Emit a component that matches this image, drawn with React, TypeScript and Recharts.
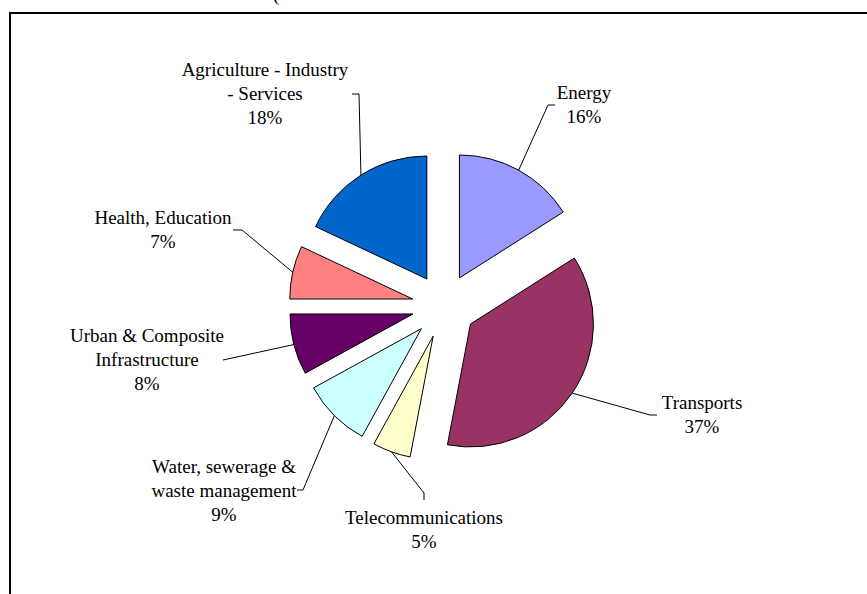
import React from "react";
import { PieChart, Pie, Cell, Sector, Tooltip } from "recharts";

// sector names, clockwise from 12 o'clock
const categories = [
  "Energy",
  "Transports",
  "Telecommunications",
  "Water, sewerage &\nwaste management",
  "Urban & Composite\nInfrastructure",
  "Health, Education",
  "Agriculture - Industry\n- Services",
];
const shares = [16, 37, 5, 9, 8, 7, 18];
const colors = ["#9999FF", "#993366", "#FFFFCC", "#CCFFFF", "#660066", "#FF8080", "#0066CC"];

// label placement relative to pie centre: text anchor (tx,ty), leader elbow (ex,ey), leader end (kx,ky)
const labelLayout = [
  { tx: 140, ty: -207, ex: 104, ey: -201, kx: 111, ky: -201 },
  { tx: 258, ty: 103, ex: 206, ey: 109, kx: 213, ky: 109 },
  { tx: -20, ty: 218, ex: -20, ey: 187, kx: -20, ky: 194 },
  { tx: -220, ty: 167, ex: -141, ey: 184, kx: -147, ky: 184 },
  { tx: -297, ty: 36, ex: -221, ey: 54, kx: -221, ky: 54 },
  { tx: -281, ty: -82, ex: -202, ey: -76, kx: -211, ky: -76 },
  { tx: -179, ty: -230, ex: -85, ey: -212, kx: -92, ky: -212 },
];

const data = categories.map((name, i) => ({ name, value: shares[i] }));

const RADIAN = Math.PI / 180;
const EXPLODE = 32;
const FONT = "'Liberation Serif', 'Times New Roman', serif";

const explodeOffset = (midAngle: number) => ({
  dx: EXPLODE * Math.cos(-midAngle * RADIAN),
  dy: EXPLODE * Math.sin(-midAngle * RADIAN),
});

function ExplodedSector(props: any) {
  const { cx, cy, midAngle } = props;
  const { dx, dy } = explodeOffset(midAngle);
  return <Sector {...props} cx={cx + dx} cy={cy + dy} />;
}

function renderLabel(props: any) {
  const { cx, cy, midAngle, outerRadius, index, name, percent } = props;
  const lay = labelLayout[index];
  if (!lay) return null;
  const { dx, dy } = explodeOffset(midAngle);
  const px = cx + dx + outerRadius * Math.cos(-midAngle * RADIAN);
  const py = cy + dy + outerRadius * Math.sin(-midAngle * RADIAN);
  const lines = [...String(name).split("\n"), `${Math.round(percent * 100)}%`];
  return (
    <g>
      <polyline
        points={`${px},${py} ${cx + lay.ex},${cy + lay.ey} ${cx + lay.kx},${cy + lay.ky}`}
        fill="none"
        stroke="#000"
        strokeWidth={1}
      />
      {lines.map((t, i) => (
        <text
          key={i}
          x={cx + lay.tx}
          y={cy + lay.ty + i * 24}
          textAnchor="middle"
          fontSize={19}
          fontFamily={FONT}
          fill="#000"
        >
          {t}
        </text>
      ))}
    </g>
  );
}

export default function App() {
  return (
    <div style={{ position: "absolute", left: 0, top: 0, width: 867, height: 594, overflow: "hidden", background: "#fff" }}>
      {/* title fragment, clipped by the top of the page as in the original */}
      <svg width={867} height={12} style={{ position: "absolute", left: 0, top: 0 }}>
        <text x={273} y={1} fontSize={19} fontFamily={FONT} fill="#000">(</text>
      </svg>
      <div
        style={{
          position: "absolute",
          left: 9,
          top: 12,
          width: 900,
          height: 700,
          border: "2px solid #000",
          boxSizing: "border-box",
        }}
      />
      <div style={{ position: "absolute", left: 0, top: 0 }}>
        <PieChart width={867} height={594} margin={{ top: 0, right: 0, bottom: 0, left: 0 }}>
          <Tooltip defaultIndex={0} content={() => null} cursor={false} />
          <Pie
            data={data}
            dataKey="value"
            nameKey="name"
            cx={444}
            cy={306}
            outerRadius={123}
            startAngle={90}
            endAngle={-270}
            stroke="#000"
            strokeWidth={1}
            shape={ExplodedSector}
            activeShape={ExplodedSector}
            inactiveShape={ExplodedSector}
            label={renderLabel}
            labelLine={false}
            isAnimationActive={false}
          >
            {data.map((d, i) => (
              <Cell key={d.name} fill={colors[i]} />
            ))}
          </Pie>
        </PieChart>
      </div>
    </div>
  );
}
